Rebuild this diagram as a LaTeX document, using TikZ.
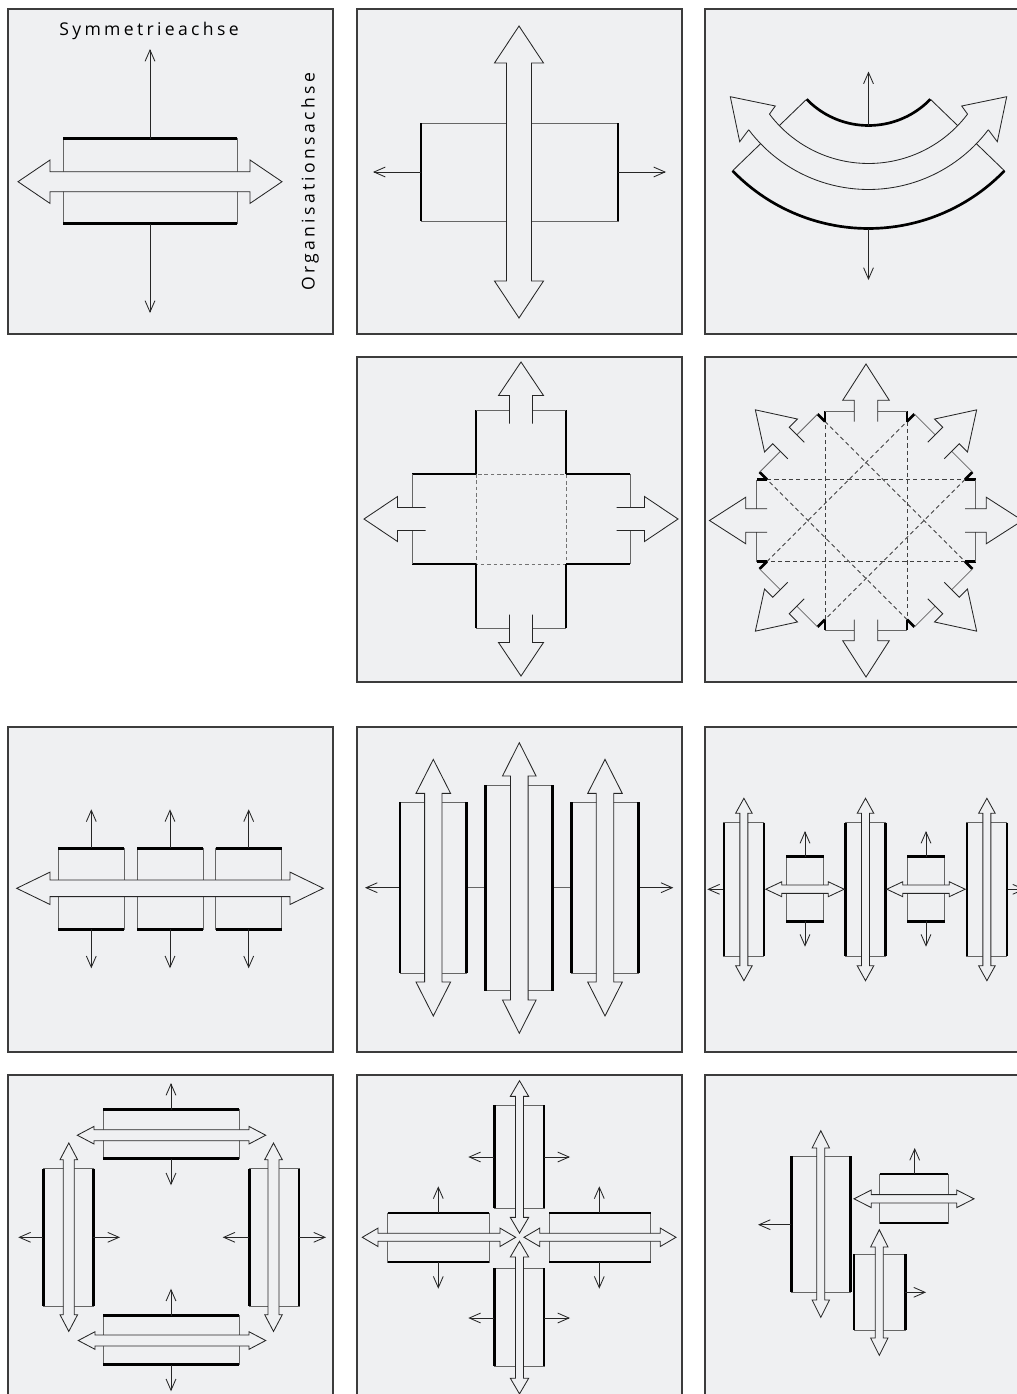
\documentclass[tikz,border=0pt]{standalone}
\usepackage{fontspec}
\usepackage{tikz}
\usetikzlibrary{arrows.meta}
\newfontfamily\axisfont[LetterSpace=19]{Open Sans}
\definecolor{paneltone}{RGB}{239,240,242}
\definecolor{frame}{RGB}{60,60,60}

\tikzset{
  pics/hblock/.style 2 args={code={
    \draw[side] (-#1,-#2) rectangle (#1,#2);
    \draw[wall] (-#1,-#2) -- (#1,-#2) (-#1,#2) -- (#1,#2);
  }},
  pics/vblock/.style 2 args={code={
    \draw[side] (-#1,-#2) rectangle (#1,#2);
    \draw[wall] (-#1,-#2) -- (-#1,#2) (#1,-#2) -- (#1,#2);
  }},
  pics/fatarrow/.style n args={4}{code={
    \filldraw[arrowline] (-#1,0) -- ({-#1+#4},#3) -- ({-#1+#4},#2) -- ({#1-#4},#2)
      -- ({#1-#4},#3) -- (#1,0) -- ({#1-#4},-#3) -- ({#1-#4},-#2)
      -- ({-#1+#4},-#2) -- ({-#1+#4},-#3) -- cycle;
  }}
}

\begin{document}
\begin{tikzpicture}[x=0.025cm, y=-0.025cm,
    panel/.style={draw=frame, line width=0.8pt, fill=paneltone},
    wall/.style={line width=1.9pt, black},
    side/.style={line width=0.6pt, black!60},
    rim/.style={line width=0.6pt, black!85},
    arrowline/.style={line width=0.6pt, draw=black!85, fill=paneltone},
    ray/.style={line width=0.6pt, black!85, -{Straight Barb[length=8pt, width=7pt]}},
    guide/.style={line width=0.6pt, black!55, dash pattern=on 2.5pt off 2pt},
    axislabel/.style={font=\axisfont\fontsize{12.5}{14}\selectfont, inner sep=0pt}
]
\useasboundingbox (0,0) rectangle (1017,1394);
\clip (0,0) rectangle (1017,1394);

\foreach \px/\py in {8/9, 357/9, 705/9, 357/357, 705/357, 8/727, 357/727, 705/727, 8/1075, 357/1075, 705/1075}
  \draw[panel] (\px,\py) rectangle ++(325,325);

% single block with two axes
\begin{scope}[shift={(8,9)}]
  \pic at (142,172) {hblock={87}{42.5}};
  \draw[ray] (142,129.5) -- (142,40);
  \draw[ray] (142,214.5) -- (142,304);
  \pic at (142,172.7) {fatarrow={132}{10}{21.7}{32}};
  \node[axislabel] (symlabel) at (141,22) {Symmetrieachse};
  \node[axislabel, rotate=90] (orglabel) at (302,173) {Organisationsachse};
\end{scope}

\begin{scope}[shift={(357,9)}]
  \pic at (162.5,163) {vblock={98.5}{49}};
  \draw[ray] (64,163) -- (16,163);
  \draw[ray] (261,163) -- (309,163);
  \pic[rotate=90] at (162,163) {fatarrow={146}{12.5}{24.5}{37}};
\end{scope}

% curved block
\begin{scope}[shift={(705,9)}]
\begin{scope}[shift={(163.5,30.5)}]
  \draw[wall] plot[domain=44:136, samples=40] ({86*cos(\x)},{86*sin(\x)});
  \draw[wall] plot[domain=44:136, samples=50] ({189*cos(\x)},{189*sin(\x)});
  \draw[rim] plot[domain=37:143, samples=50] ({124*cos(\x)},{124*sin(\x)});
  \draw[rim] plot[domain=37:143, samples=50] ({150*cos(\x)},{150*sin(\x)});
  \foreach \m in {1,-1} {
    \begin{scope}[xscale=\m]
      \draw[rim] ({86*cos(136)},{86*sin(136)}) -- ({124*cos(136)},{124*sin(136)})
                 ({150*cos(136)},{150*sin(136)}) -- ({189*cos(136)},{189*sin(136)});
      \draw[rim] ({124*cos(143)},{124*sin(143)}) -- (-93.2,66.5) -- (-138.2,57.2)
                 -- (-128.8,102.2) -- ({150*cos(143)},{150*sin(143)});
    \end{scope}
  }
  \draw[ray] (0,86) -- (0,32);
  \draw[ray] (0,189) -- (0,240.5);
\end{scope}
\end{scope}

% cross
\begin{scope}[shift={(357,357)}]
\begin{scope}[shift={(164,162)}]
  \draw[guide] (-45,-45) rectangle (45,45);
  \foreach \r in {0,90,180,270} {
    \begin{scope}[rotate=\r]
      \draw[wall] (-45,-45) -- (-45,-109) (45,-45) -- (45,-109);
      \draw[side] (-45,-109) -- (-11.5,-109) (11.5,-109) -- (45,-109);
      \draw[rim] (-11.5,-95.5) -- (-11.5,-123.5) -- (-22.5,-123.5) -- (0,-157)
                 -- (22.5,-123.5) -- (11.5,-123.5) -- (11.5,-95.5);
    \end{scope}
  }
\end{scope}
\end{scope}

% octagon
\begin{scope}[shift={(705,357)}]
\begin{scope}[shift={(161,163.5)}]
  \foreach \k in {0,...,7}
    \draw[guide, black!75, dash pattern=on 3pt off 2.2pt] ({107.2*cos(22.5+45*\k)},{107.2*sin(22.5+45*\k)})
      -- ({107.2*cos(22.5+45*(\k+3))},{107.2*sin(22.5+45*(\k+3))});
  \foreach \r in {0,45,...,315} {
    \begin{scope}[rotate=\r]
      \draw[wall] (-41,-99) -- (-41,-109.5) (41,-99) -- (41,-109.5);
      \draw[side] (-41,-109.5) -- (-11.7,-109.5) (11.7,-109.5) -- (41,-109.5);
      \draw[rim] (-11.7,-99) -- (-11.7,-120.2) -- (-23.3,-120.2) -- (0,-156.5)
                 -- (23.3,-120.2) -- (11.7,-120.2) -- (11.7,-99);
    \end{scope}
  }
\end{scope}
\end{scope}

% row of three
\begin{scope}[shift={(8,727)}]
  \foreach \cx in {83.3,162,240.7} {
    \pic at (\cx,161.8) {hblock={33}{40.5}};
    \draw[ray] (\cx,121.3) -- (\cx,82.3);
    \draw[ray] (\cx,202.3) -- (\cx,241.3);
  }
  \pic at (162,161.3) {fatarrow={153.3}{8.3}{16.2}{33.3}};
\end{scope}

\begin{scope}[shift={(357,727)}]
  \draw[ray] (43,160.7) -- (8,160.7);
  \draw[side] (109.7,160.7) -- (128.7,160.7) (195.3,160.7) -- (214.7,160.7);
  \draw[ray] (281.3,160.7) -- (316.3,160.7);
  \pic at (76.3,160.8) {vblock={33.3}{85.5}};
  \pic at (162,160.8) {vblock={33.3}{102.8}};
  \pic at (248,160.8) {vblock={33.3}{85.5}};
  \pic[rotate=90] at (76.3,160.7) {fatarrow={128.3}{8.7}{17.3}{34}};
  \pic[rotate=90] at (162.3,161) {fatarrow={145.3}{8.8}{16.8}{33.3}};
  \pic[rotate=90] at (248,160.7) {fatarrow={128.3}{8.7}{17.3}{34}};
\end{scope}

\begin{scope}[shift={(705,727)}]
  \draw[ray] (19,162.3) -- (2.3,162.3);
  \draw[ray] (302,162.3) -- (320,162.3);
  \foreach \cx in {38.9,160.5,281.9} {
    \pic at (\cx,162.4) {vblock={20}{66.7}};
    \pic[rotate=90] at (\cx,162.5) {fatarrow={91.2}{4}{8.3}{15}};
  }
  \foreach \cx in {100,221} {
    \pic at (\cx,162) {hblock={18.7}{32.3}};
    \draw[ray] (\cx,129.7) -- (\cx,104);
    \draw[ray] (\cx,194.3) -- (\cx,219.7);
    \pic at (\cx,162.2) {fatarrow={39.2}{4.2}{7.5}{16}};
  }
\end{scope}

% ring of four
\begin{scope}[shift={(8,1075)}]
  \pic at (163.3,59.2) {hblock={68}{24.5}};
  \pic at (163.3,265.2) {hblock={68}{24.5}};
  \pic at (60.3,162.5) {vblock={25}{68.8}};
  \pic at (266.2,162.5) {vblock={24.9}{68.8}};
  \draw[ray] (163,34.7) -- (163,8);
  \draw[ray] (163,83.7) -- (163,110.3);
  \draw[ray] (163,240.7) -- (163,213.7);
  \draw[ray] (163,289.7) -- (163,316.3);
  \draw[ray] (35.3,162.3) -- (10.3,162.3);
  \draw[ray] (85.3,162.3) -- (112,162.3);
  \draw[ray] (241.3,162.3) -- (214.7,162.3);
  \draw[ray] (291,162.3) -- (318,162.3);
  \pic at (163.5,60.2) {fatarrow={94.2}{5.5}{8.8}{16.7}};
  \pic at (164,265.5) {fatarrow={93.7}{5.5}{8.8}{16.7}};
  \pic[rotate=90] at (60.8,162.2) {fatarrow={94.2}{5.5}{8.8}{16.7}};
  \pic[rotate=90] at (265.5,162.2) {fatarrow={94.2}{5.5}{8.8}{16.7}};
\end{scope}

% pinwheel
\begin{scope}[shift={(357,1075)}]
  \pic at (162.2,81.7) {vblock={24.9}{51.4}};
  \pic at (162.2,242.2) {vblock={24.9}{49.2}};
  \pic at (81.5,162.5) {hblock={50.8}{24.5}};
  \pic at (243,162.5) {hblock={50.7}{24.5}};
  \draw[ray] (137.3,82) -- (111.3,82);
  \draw[ray] (187,82) -- (213,82);
  \draw[ray] (137.3,243) -- (111.3,243);
  \draw[ray] (187,243) -- (213,243);
  \draw[ray] (81.3,138) -- (81.3,111.3);
  \draw[ray] (81.3,187) -- (81.3,213.7);
  \draw[ray] (242.3,138) -- (242.3,111.3);
  \draw[ray] (242.3,187) -- (242.3,213.7);
  \pic[rotate=90] at (162.5,81.9) {fatarrow={76.2}{4}{9.2}{15.7}};
  \pic[rotate=90] at (162.5,242.6) {fatarrow={76.3}{4}{9.2}{15.7}};
  \pic at (82,162.3) {fatarrow={76.7}{4}{9.2}{15.7}};
  \pic at (243,162.3) {fatarrow={76}{4}{9.2}{15.7}};
\end{scope}

% free group
\begin{scope}[shift={(705,1075)}]
  \pic at (115.8,149.2) {vblock={29.5}{67.9}};
  \draw[ray] (86.3,149.7) -- (53,149.7);
  \pic[rotate=90] at (115.8,149) {fatarrow={93.3}{4}{8.7}{17.3}};
  \pic at (208.9,123.5) {hblock={34.2}{24.5}};
  \draw[ray] (209.7,99) -- (209.7,73);
  \pic at (209,123.8) {fatarrow={60}{4.2}{8.8}{17.3}};
  \pic at (174.7,217.2) {vblock={25.7}{38.2}};
  \draw[ray] (200.3,217.3) -- (221,217.3);
  \pic[rotate=90] at (174.3,217.5) {fatarrow={62.8}{4}{8.7}{17.3}};
\end{scope}
\end{tikzpicture}
\end{document}
